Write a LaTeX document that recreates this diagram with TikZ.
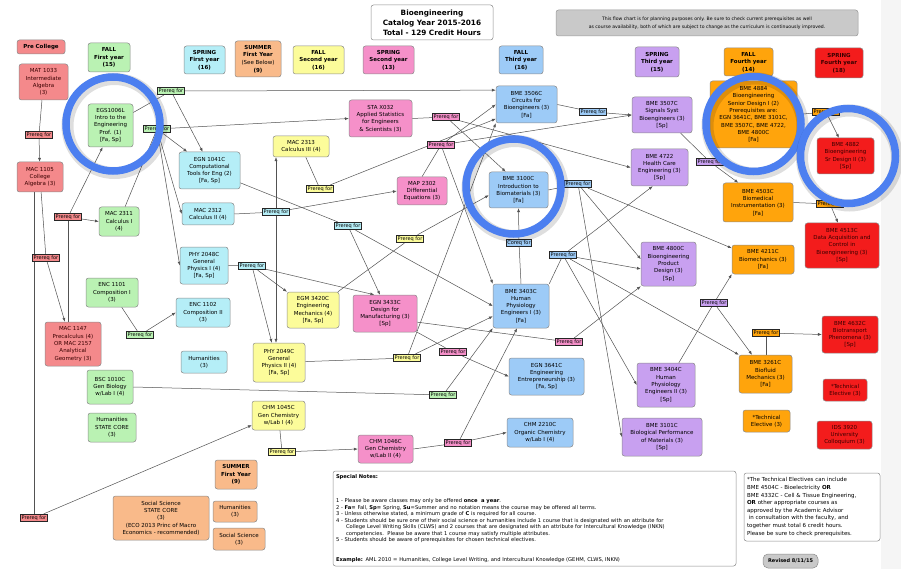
\documentclass[tikz,border=0pt]{standalone}
\usepackage{fontspec}
\setmainfont{DejaVu Sans}
\usetikzlibrary{arrows.meta,calc}
\pgfdeclarelayer{back}
\pgfdeclarelayer{edges}
\pgfsetlayers{back,edges,main}
\definecolor{cpre}{HTML}{F4898B}
\definecolor{cgrn}{HTML}{BAF2B3}
\definecolor{ccyn}{HTML}{B5EEF7}
\definecolor{csum}{HTML}{F9BA8A}
\definecolor{cyel}{HTML}{FCFC9A}
\definecolor{cpnk}{HTML}{F590C9}
\definecolor{cblu}{HTML}{9DCBF7}
\definecolor{cpur}{HTML}{C8A0F0}
\definecolor{corg}{HTML}{FFA40C}
\definecolor{cred}{HTML}{F31C1C}
\definecolor{cring}{HTML}{4C7FF0}
\definecolor{cgray}{HTML}{C9C9C9}
\definecolor{dred}{HTML}{3A0000}
\tikzset{
 box/.style={rectangle, rounded corners=2.5pt, draw=black!45, line width=0.5pt, align=center, inner sep=0.5pt, font=\fontsize{5.5}{7.3}\selectfont},
 rd/.style={box, text=dred},
 hdr/.style={box, font=\fontsize{5.5}{7.6}\selectfont\bfseries},
 lab/.style={rectangle, draw=black!85, line width=0.75pt, inner sep=0.9pt, font=\fontsize{5}{5}\selectfont, minimum height=7.5pt},
 ln/.style={draw=black!68, line width=0.5pt},
 ar/.style={ln, -{Latex[length=3.8pt,width=3pt]}},
 ring/.style={draw=cring, line width=7.5pt},
 ringsh/.style={draw=black, opacity=0.13, line width=12pt},
}
\newcommand\bx[8]{\node[#2,fill=#3,minimum width={#6-#4},minimum height={#7-#5}] (#1) at ({(#4+#6)/2},{(#5+#7)/2}) {#8};}
\newcommand\lb[4]{\node[lab,fill=#2] (#1) at (#3) {#4};}
\newcommand\pf{Prereq for}
\begin{document}
\begin{tikzpicture}[x=1pt,y=-1pt]
\begin{pgfonlayer}{back}
\fill[white] (0,0) rectangle (901,569);
\fill[gray!8] (881,0) rectangle (901,569);
\end{pgfonlayer}
\useasboundingbox (0,0) rectangle (901,569);

% title and notice
\bx{title}{box, font=\fontsize{7.3}{10}\selectfont\bfseries}{white}{371}{5}{493}{40}{Bioengineering\\Catalog Year 2015-2016\\Total - 129 Credit Hours}
\bx{note}{box, draw=black!40, font=\fontsize{4.6}{7.5}\selectfont}{cgray}{556}{10}{858}{36}{This flow chart is for planning purposes only. Be sure to check current prerequisites as well\\as course availability, both of which are subject to change as the curriculum is continuously improved.}

% semester headers
\bx{hPre}{hdr}{cpre}{17}{40}{65}{54}{Pre College}
\bx{hF1}{hdr}{cgrn}{88}{43}{130}{72}{FALL\\First year\\(15)}
\bx{hS1}{hdr}{ccyn}{184}{46}{225}{74}{SPRING\\First year\\(16)}
\bx{hSu1}{hdr}{csum}{235}{41}{281}{77}{SUMMER\\First Year\\\mdseries(See Below)\\(9)}
\bx{hF2}{hdr}{cyel}{293}{46}{344}{74}{FALL\\Second year\\(16)}
\bx{hS2}{hdr}{cpnk}{363}{46}{414}{74}{SPRING\\Second year\\(13)}
\bx{hF3}{hdr}{cblu}{499}{46}{543}{74}{FALL\\Third year\\(16)}
\bx{hS3}{hdr}{cpur}{635}{47}{679}{77}{SPRING\\Third year\\(15)}
\bx{hF4}{hdr}{corg}{724}{48}{773}{76}{FALL\\Fourth year\\(14)}
\bx{hS4}{hdr, text=dred}{cred}{815}{48}{863}{78}{SPRING\\Fourth year\\(18)}

% pre college
\bx{mat1033}{rd}{cpre}{19}{64}{68}{100}{MAT 1033\\Intermediate\\Algebra\\(3)}
\bx{mac1105}{rd}{cpre}{17}{162}{63}{192}{MAC 1105\\College\\Algebra (3)}
\bx{mac1147}{rd}{cpre}{45}{322}{101}{366}{MAC 1147\\Precalculus (4)\\OR MAC 2157\\Analytical\\Geometry (3)}

% fall first year
\bx{egs}{box}{cgrn}{88}{104}{133}{147}{EGS1006L\\Intro to the\\Engineering\\Prof. (1)\\{[Fa, Sp]}}
\bx{mac2311}{box}{cgrn}{99}{207}{139}{236}{MAC 2311\\Calculus I\\(4)}
\bx{enc1101}{box}{cgrn}{86}{278}{138}{307}{ENC 1101\\Composition I\\(3)}
\bx{bsc}{box}{cgrn}{87}{370}{133}{404}{BSC 1010C\\Gen Biology\\w/Lab I (4)}
\bx{humsc}{box}{cgrn}{88}{413}{136}{442}{Humanities\\STATE CORE\\(3)}

% spring first year
\bx{egn1041}{box}{ccyn}{179}{152}{240}{189}{EGN 1041C\\Computational\\Tools for Eng (2)\\{[Fa, Sp]}}
\bx{mac2312}{box}{ccyn}{182}{203}{234}{225}{MAC 2312\\Calculus II (4)}
\bx{phy2048}{box}{ccyn}{180}{247}{228}{284}{PHY 2048C\\General\\Physics I (4)\\{[Fa, Sp]}}
\bx{enc1102}{box}{ccyn}{176}{298}{230}{327}{ENC 1102\\Composition II\\(3)}
\bx{hum1}{box}{ccyn}{181}{351}{227}{373}{Humanities\\(3)}

% fall second year
\bx{mac2313}{box}{cyel}{273}{136}{329}{157}{MAC 2313\\Calculus III (4)}
\bx{egm}{box}{cyel}{287}{292}{339}{328}{EGM 3420C\\Engineering\\Mechanics (4)\\{[Fa, Sp]}}
\bx{phy2049}{box}{cyel}{253}{343}{305}{382}{PHY 2049C\\General\\Physics II (4)\\{[Fa, Sp]}}
\bx{chm1045}{box}{cyel}{252}{401}{305}{430}{CHM 1045C\\Gen Chemistry\\w/Lab I (4)}

% spring second year
\bx{sta}{box}{cpnk}{349}{100}{412}{137}{STA X032\\Applied Statistics\\for Engineers\\\& Scientists (3)}
\bx{map}{box}{cpnk}{397}{177}{447}{205}{MAP 2302\\Differential\\Equations (3)}
\bx{egn3433}{box}{cpnk}{353}{295}{417}{332}{EGN 3433C\\Design for\\Manufacturing (3)\\{[Sp]}}
\bx{chm1046}{box}{cpnk}{358}{435}{413}{463}{CHM 1046C\\Gen Chemistry\\w/Lab II (4)}

% fall third year
\bx{bme3506}{box}{cblu}{496}{86}{557}{123}{BME 3506C\\Circuits for\\Bioengineers (3)\\{[Fa]}}
\bx{bme3100}{box}{cblu}{489}{172}{548}{208}{BME 3100C\\Introduction to\\Biomaterials (3)\\{[Fa]}}
\bx{bme3403}{box}{cblu}{493}{284}{549}{328}{BME 3403C\\Human\\Physiology\\Engineers I (3)\\{[Fa]}}
\bx{egn3641}{box}{cblu}{509}{358}{584}{395}{EGN 3641C\\Engineering\\Entrepreneurship (3)\\{[Fa, Sp]}}
\bx{chm2210}{box}{cblu}{507}{418}{573}{447}{CHM 2210C\\Organic Chemistry\\w/Lab I (4)}

% spring third year
\bx{bme3507}{box}{cpur}{632}{97}{692}{133}{BME 3507C\\Signals Syst\\Bioengineers (3)\\{[Sp]}}
\bx{bme4722}{box}{cpur}{631}{149}{688}{186}{BME 4722\\Health Care\\Engineering (3)\\{[Sp]}}
\bx{bme4800}{box}{cpur}{641}{242}{696}{286}{BME 4800C\\Bioengineering\\Product\\Design (3)\\{[Sp]}}
\bx{bme3404}{box}{cpur}{637}{363}{695}{407}{BME 3404C\\Human\\Physiology\\Engineers II (3)\\{[Sp]}}
\bx{bme3101}{box}{cpur}{622}{418}{702}{456}{BME 3101C\\Biological Performance\\of Materials (3)\\{[Sp]}}

% fall fourth year
\bx{bme4884}{box}{corg}{710}{81}{797}{148}{BME 4884\\Bioengineering\\Senior Design I (2)\\Prerequisites are:\\EGN 3641C, BME 3101C,\\BME 3507C, BME 4722,\\BME 4800C\\{[Fa]}}
\bx{bme4503}{box}{corg}{723}{183}{793}{222}{BME 4503C\\Biomedical\\Instrumentation (3)\\{[Fa]}}
\bx{bme4211}{box}{corg}{732}{245}{794}{274}{BME 4211C\\Biomechanics (3)\\{[Fa]}}
\bx{bme3261}{box}{corg}{739}{355}{792}{393}{BME 3261C\\Biofluid\\Mechanics (3)\\{[Fa]}}
\bx{te1}{box}{corg}{743}{410}{790}{432}{*Technical\\Elective  (3)}

% spring fourth year
\bx{bme4882}{rd}{cred}{817}{138}{874}{174}{BME 4882\\Bioengineering\\Sr Design II (3)\\{[Sp]}}
\bx{bme4513}{rd}{cred}{805}{223}{879}{268}{BME 4513C\\Data Acquisition and\\Control in\\Bioengineering (3)\\{[Sp]}}
\bx{bme4632}{rd}{cred}{822}{316}{878}{353}{BME 4632C\\Biotransport\\Phenomena (3)\\{[Sp]}}
\bx{te2}{rd}{cred}{823}{379}{867}{401}{*Technical\\Elective (3)}
\bx{ids}{rd}{cred}{817}{421}{872}{449}{IDS 3920\\University\\Colloquium (3)}

% summer
\bx{hSu2}{hdr}{csum}{215}{460}{257}{489}{SUMMER\\First Year\\(9)}
\bx{ss1}{box}{csum}{113}{496}{209}{540}{Social Science\\STATE CORE\\(3)\\(ECO 2013 Princ of Macro\\Economics - recommended)}
\bx{hum2}{box}{csum}{213}{501}{257}{522}{Humanities\\(3)}
\bx{ss2}{box}{csum}{213}{528}{265}{550}{Social Science\\(3)}

% notes
\bx{notes}{box, align=left, text width=397pt, font=\fontsize{5.2}{6.5}\selectfont}{white}{333}{471}{736}{566}{\textbf{Special Notes:}\\[17.5pt]
1 - Please be aware classes may only be offered \textbf{once\ \ a year}.\\
2 - \textbf{Fa=} Fall, \textbf{Sp=} Spring, \textbf{Su}=Summer and no notation means the course may be offered all terms.\\
3 - Unless otherwise stated, a minimum grade of \textbf{C} is required for all course.\\
4 - Students should be sure one of their social science or humanities include 1 course that is designated with an attribute for\\
\hspace*{10pt}College Level Writing Skills (CLWS) and 2 courses that are designated with an attribute for Intercultural Knowledge (INKN)\\
\hspace*{10pt}competencies.\ \ Please be aware that 1 course may satisfy multiple attributes.\\
5 - Students should be aware of prerequisites for chosen technical electives.\\[13pt]
\textbf{Example:} AML 2010 = Humanities, College Level Writing, and Intercultural Knowledge (GEHM, CLWS, INKN)}
\bx{tenote}{box, align=left, text width=130pt, font=\fontsize{5.5}{7.6}\selectfont}{white}{744}{473}{880}{541}{*The Technical Electives can include\\BME 4504C - Bioelectricity \textbf{OR}\\BME 4332C - Cell \& Tissue Engineering,\\\textbf{OR} other appropriate courses as\\approved by the Academic Advisor\\\ in consultation with the faculty, and\\together must total 6 credit hours.\\Please be sure to check prerequisites.}
\bx{rev}{box, rounded corners=5pt, font=\fontsize{5}{6}\selectfont\bfseries}{cgray}{763}{554}{818}{568}{Revised 8/11/15}

% labels
\lb{Lg1}{cgrn}{171,91}{\pf}
\lb{Lg2}{cgrn}{157,129}{\pf}
\lb{Lr1}{cpre}{39,135}{\pf}
\lb{Lr2}{cpre}{68,217}{\pf}
\lb{Lr3}{cpre}{46,258}{\pf}
\lb{Lr4}{cpre}{34,518}{\pf}
\lb{Lg3}{cgrn}{140,335}{\pf}
\lb{Lc1}{ccyn}{276,212}{\pf}
\lb{Lc2}{ccyn}{252,266}{\pf}
\lb{Lc3}{ccyn}{348,226}{\pf}
\lb{Ly1}{cyel}{320,189}{\pf}
\lb{Ly2}{cyel}{410,239}{\pf}
\lb{Ly3}{cyel}{407,358}{\pf}
\lb{Lyc}{cyel}{282,452}{\pf}
\lb{Lp1}{cpnk}{446,117}{\pf}
\lb{Lp2}{cpnk}{441,145}{\pf}
\lb{Lp3}{cpnk}{569,342}{\pf}
\lb{Lp4}{cpnk}{453,352}{\pf}
\lb{Lpk}{cpnk}{458,443}{\pf}
\lb{Lgr}{cgrn}{443,395}{\pf}
\lb{Lb1}{cblu}{578,184}{\pf}
\lb{Lb2}{cblu}{519,243}{Coreq for}
\lb{Lb3}{cblu}{563,255}{\pf}
\lb{Lb5}{cblu}{593,112}{\pf}
\lb{Lpu1}{cpur}{710,162}{\pf}
\lb{Lpu2}{cpur}{714,303}{\pf}
\lb{Lo1}{corg}{826,112}{\pf}
\lb{Lo2}{corg}{830,204}{\pf}
\lb{Lo3}{corg}{766,333}{\pf}

\begin{pgfonlayer}{edges}
\draw[ln] (egs) -- (Lg1);
\draw[ar] (Lg1) -- (bme3506.155);
\draw[ar] (Lg1) -- (egn1041.110);
\draw[ln] (mac2311) -- (Lg2);
\draw[ar] (Lg2) -- (sta.west);
\draw[ar] (Lg2) -- (egn1041.140);
\draw[ar] (Lg2) -- (mac2312.west);
\draw[ar] (Lg2) -- (phy2048.west);
\draw[ln] (mat1033) -- (Lr1);
\draw[ar] (Lr1) -- (mac1105);
\draw[ln] (mac1147.north -| Lr2) -- (Lr2);
\draw[ar] (Lr2) -- (mac2311.west);
\draw[ar] (Lr2) -- (egs.250);
\draw[ln] (mac1105) -- (Lr3);
\draw[ar] (Lr3) -- (mac1147.110);
\draw[ln] (mac1105.south -| Lr4) -- (Lr4);
\draw[ar] (Lr4) -- (chm1045.200);
\draw[ln] (enc1101) -- (Lg3);
\draw[ar] (Lg3) -- (enc1102.west);
\draw[ln] (mac2312.east) -- (Lc1);
\draw[ar] (Lc1) -- (Lc1 |- mac2313.south);
\draw[ar] (Lc1) -- (Lc1 |- phy2049.north);
\draw[ar] (Lc1) -- (map.west);
\draw[ln] (phy2048.east) -- (Lc2);
\draw[ar] (Lc2) -- (egm.145);
\draw[ar] (Lc2) -- (phy2049.110);
\draw[ar] (Lc2) -- (egn3433.120);
\draw[ln] (egn1041) -- (Lc3);
\draw[ar] (Lc3) -- (egn3433.105);
\draw[ar] (Lc3) -- (bme3403.west);
\draw[ln] (mac2313) -- (Ly1);
\draw[ar] (Ly1) -- (bme3506.205);
\draw[ln] (egm) -- (Ly2);
\draw[ar] (Ly2) -- (bme3100.190);
\draw[ln] (phy2049) -- (Ly3);
\draw[ar] (Ly3) -- (bme3403.200);
\draw[ar] (Ly3) -- (bme3506.south west);
\draw[ln] (chm1045) -- (Lyc);
\draw[ar] (Lyc) -- (chm1046.west);
\draw[ln] (sta.east) -- (Lp1);
\draw[ar] (Lp1) -- (bme3100.125);
\draw[ar] (Lp1) -- (bme4722.west);
\draw[ln] (map.north) -- (Lp2);
\draw[ar] (Lp2) -- (bme3506.west);
\draw[ar] (Lp2) -- (bme3507.west);
\draw[ar] (Lp2) -- (bme3403.north west);
\draw[ln] (egn3433.345) -- (Lp3);
\draw[ar] (Lp3) -- (bme4800.south west);
\draw[ln] (egn3433.south east) -- (Lp4);
\draw[ar] (Lp4) -- (egn3641.west);
\draw[ln] (bsc.east) -- (Lgr);
\draw[ar] (Lgr) -- (bme3403.south west);
\draw[ln] (chm1046.east) -- (Lpk);
\draw[ar] (Lpk) -- (chm2210.west);
\draw[ar] (Lpk) -- (bme3403.260);
\draw[ln] (bme3100.east) -- (Lb1);
\draw[ar] (Lb1) -- (bme4211.160);
\draw[ar] (Lb1) -- (bme3101.west);
\draw[ar] (Lb1) -- (bme4800.170);
\draw[ln] (bme3403.north) -- (Lb2);
\draw[ar] (Lb2) -- (bme3100.south);
\draw[ln] (bme3403.north east) -- (Lb3);
\draw[ar] (Lb3) -- (bme4800.190);
\draw[ar] (Lb3) -- (bme4722.250);
\draw[ar] (Lb3) -- (bme3404.west);
\draw[ar] (Lb3) -- (bme3261.north west);
\draw[ln] (bme3506.east) -- (Lb5);
\draw[ar] (Lb5) -- (bme3507.west);
\draw[ln] (bme3507) -- (Lpu1);
\draw[ar] (Lpu1) -- (bme4503.135);
\draw[ln] (bme3404.60) -- (Lpu2);
\draw[ar] (Lpu2) -- (bme4211.south west);
\draw[ar] (Lpu2) -- (bme3261.125);
\draw[ln] (bme4884.east) -- (Lo1);
\draw[ar] (Lo1) -- (bme4882.110);
\draw[ln] (bme4503.east) -- (Lo2);
\draw[ar] (Lo2) -- (bme4513.100);
\draw[ln] (bme3261.north -| Lo3) -- (Lo3);
\draw[ar] (Lo3) -- (bme4632.west);
\end{pgfonlayer}

% highlight rings
\draw[ringsh] (114.5,126) circle (47);
\draw[ring] (113,124) circle (47);
\draw[ringsh] (515,188.5) circle (47.5);
\draw[ring] (513.5,186.5) circle (47.5);
\draw[ringsh] (755,126) circle (47.5);
\draw[ring] (753.5,124) circle (47.5);
\draw[ringsh] (849.5,158) circle (47.5);
\draw[ring] (848,156) circle (47.5);
\end{tikzpicture}
\end{document}
